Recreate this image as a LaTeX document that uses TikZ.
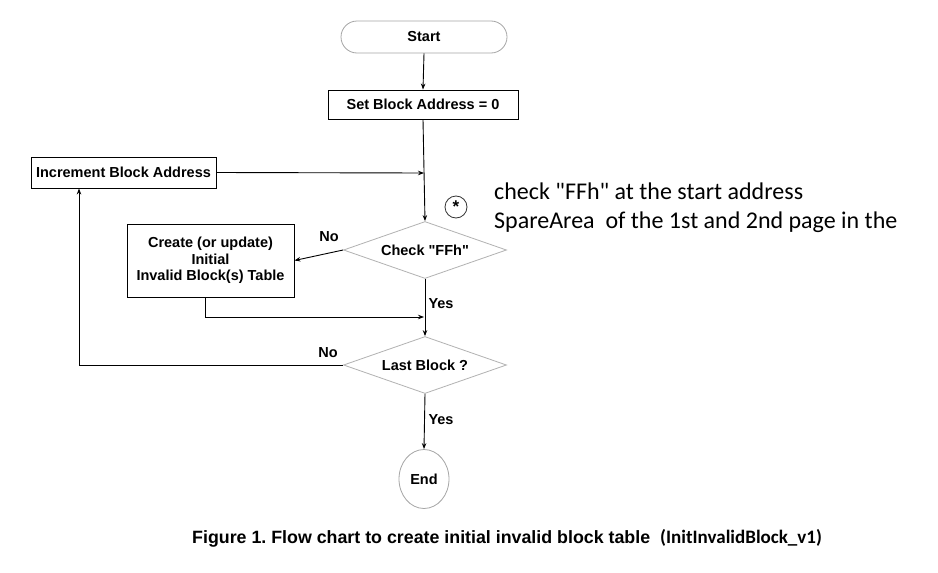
\documentclass[tikz,border=0pt]{standalone}
\usepackage{fontspec}
\newfontfamily\diagfont{Liberation Sans}
\newfontfamily\notefont{Carlito}
\usetikzlibrary{shapes.geometric,arrows.meta}
\frenchspacing
\begin{document}
\begin{tikzpicture}[x=1pt,y=-1pt,
  every node/.style={font=\diagfont\fontsize{14.5}{16.5}\selectfont\bfseries},
  procbox/.style={draw=black,line width=0.9pt,inner sep=0pt,align=center},
  decis/.style={diamond,draw=black!30,line width=0.8pt,inner sep=0pt,shape aspect=2.86,minimum width=163pt,minimum height=57pt},
  term/.style={draw=black!35,line width=0.8pt,inner sep=0pt},
  conn/.style={line width=0.9pt,-{Stealth[length=6pt,width=4.5pt]}},
  lab/.style={inner sep=0pt}]
\useasboundingbox (0,0) rectangle (938,573);
\fill[white] (0,0) rectangle (938,573);

\node[term,rectangle,rounded corners=16pt,minimum width=166pt,minimum height=32pt] (start) at (424,37) {Start};
\node[procbox,minimum width=190pt,minimum height=29pt] (setb) at (423,104.5) {Set Block Address = 0};
\node[procbox,minimum width=185pt,minimum height=31pt] (inc) at (123.5,172.5) {Increment Block Address};
\node[decis] (c1) at (425,250) {Check "FFh"};
\node[procbox,minimum width=167pt,minimum height=73pt] (create) at (210.5,260.5) {Create (or update)\\Initial\\Invalid Block(s) Table};
\node[decis] (c2) at (425,365) {Last Block ?};
\node[term,ellipse,minimum width=50pt,minimum height=59pt] (end) at (424,479) {End};

\node[circle,draw=black!80,line width=0.8pt,minimum size=22pt,inner sep=0pt,font=\diagfont\fontsize{17}{17}\selectfont\bfseries] (star) at (456,207) {*};
\node[anchor=west,inner sep=0pt,align=left,font=\notefont\fontsize{24}{29}\selectfont] (note) at (494,208) {check "FFh" at the start address\\SpareArea\ \ of the 1st and 2nd page in the};

\coordinate (j1) at (424,173);
\coordinate (j2) at (424,317);

\draw[conn] (start.south) -- (setb.north);
\draw[conn] (setb.south) -- (c1.north);
\draw[conn] (inc.east) -- (j1);
\draw[conn] (c1.west) -- (create.east);
\draw[conn] (c1.south) -- (c2.north);
\draw[conn] ([xshift=-5pt]create.south) |- (j2);
\draw[conn] (c2.west) -| ([xshift=-44.5pt]inc.south);
\draw[conn] (c2.south) -- (end.north);

\node[lab] (no1) at (329,237) {No};
\node[lab] (yes1) at (441,304) {Yes};
\node[lab] (no2) at (328,353) {No};
\node[lab] (yes2) at (441,419.5) {Yes};

\node[anchor=base west,inner sep=0pt,font=\diagfont\fontsize{17.8}{20}\selectfont\bfseries] (cap1) at (192,543) {Figure 1. Flow chart to create initial invalid block table};
\node[anchor=base west,inner sep=0pt,font=\notefont\fontsize{19}{20}\selectfont\bfseries] (cap2) at (660,543) {(InitInvalidBlock\_v1)};
\end{tikzpicture}
\end{document}
